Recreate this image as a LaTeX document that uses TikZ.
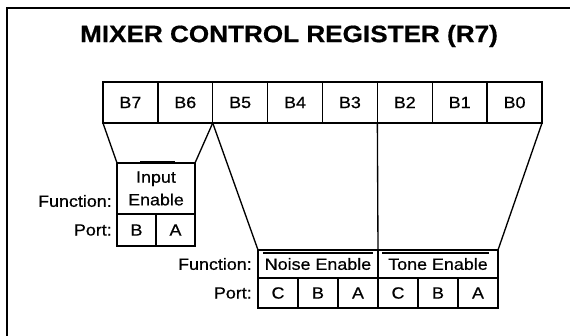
\documentclass[tikz,border=0pt]{standalone}
\usepackage{fontspec}
\setmainfont{Liberation Sans}[FakeStretch=1.1, FakeBold=0.6]
\usepackage{tikz}
\usetikzlibrary{positioning,calc}

\begin{document}
\begin{tikzpicture}[x=0.75pt, y=-0.75pt,
		bitcell/.style={draw, line width=1pt, outer sep=0pt, inner sep=0pt, minimum width=41.16pt, minimum height=30.75pt, font=\fontsize{12.2}{14}\selectfont},
		fncell/.style={draw, line width=1pt, outer sep=0pt, inner sep=0pt, font=\fontsize{12.2}{14}\selectfont},
		portcell/.style={draw, line width=1pt, outer sep=0pt, inner sep=0pt, font=\fontsize{12.2}{14}\selectfont},
		lbl/.style={inner sep=0pt, font=\fontsize{12.2}{14}\selectfont},
		wire/.style={line width=1pt}]
		\useasboundingbox (0,0) rectangle (570,335);
		\clip (0,0) rectangle (570,335);
		\draw[line width=1.5pt] (7,345) -- (7,8.5) -- (580,8.5);

		\node[font=\fontsize{17.8}{20}\selectfont\bfseries] (title) at (289,36) {MIXER CONTROL REGISTER (R7)};

		\begin{scope}
			\node[bitcell] (b7) at (130.4,102.5) {B7};
			\node[bitcell, right=0pt of b7] (b6) {B6};
			\node[bitcell, right=0pt of b6] (b5) {B5};
			\node[bitcell, right=0pt of b5] (b4) {B4};
			\node[bitcell, right=0pt of b4] (b3) {B3};
			\node[bitcell, right=0pt of b3] (b2) {B2};
			\node[bitcell, right=0pt of b2] (b1) {B1};
			\node[bitcell, right=0pt of b1] (b0) {B0};
		\end{scope}

		\begin{scope}
			\node[fncell, minimum width=58.5pt, minimum height=38.25pt, align=center, font=\fontsize{12.2}{17}\selectfont] (inen) at (156,188.5) {Input\\Enable};
			\node[portcell, minimum width=29.25pt, minimum height=24pt, anchor=north west] (inb) at (inen.south west) {B};
			\node[portcell, minimum width=29.25pt, minimum height=24pt, right=0pt of inb] (ina) {A};
			\node[lbl, anchor=east] (infn) at (112,201) {Function:};
			\node[lbl, left=3.75pt of inb] (inport) {Port:};
			\draw[line width=1.2pt] ([xshift=17.25pt, yshift=1pt]inen.north west) -- ([xshift=-15pt, yshift=1pt]inen.north east);
		\end{scope}

		\begin{scope}
			\node[fncell, minimum width=90pt, minimum height=21pt] (noise) at (318,264) {Noise Enable};
			\node[fncell, minimum width=90pt, minimum height=21pt, right=0pt of noise] (tone) {Tone Enable};
			\node[portcell, minimum width=30pt, minimum height=22.5pt, anchor=north west] (nc) at (noise.south west) {C};
			\node[portcell, minimum width=30pt, minimum height=22.5pt, right=0pt of nc] (nb) {B};
			\node[portcell, minimum width=30pt, minimum height=22.5pt, right=0pt of nb] (na) {A};
			\node[portcell, minimum width=30pt, minimum height=22.5pt, right=0pt of na] (tc) {C};
			\node[portcell, minimum width=30pt, minimum height=22.5pt, right=0pt of tc] (tb) {B};
			\node[portcell, minimum width=30pt, minimum height=22.5pt, right=0pt of tb] (ta) {A};
			\node[lbl, left=4.5pt of noise] (mixfn) {Function:};
			\node[lbl, left=4.5pt of nc] (mixport) {Port:};
			\draw[wire] ([xshift=3.75pt, yshift=-2.25pt]noise.north west) -- ([xshift=-3.75pt, yshift=-2.25pt]noise.north east);
			\draw[wire] ([xshift=3pt, yshift=-2.25pt]tone.north west) -- ([xshift=-6.75pt, yshift=-2.25pt]tone.north east);
		\end{scope}

		\draw[wire] (b7.south west) -- (inen.north west);
		\draw[wire] (b6.south east) -- (inen.north east);
		\draw[wire] (b5.south west) -- (noise.north west);
		\draw[wire] (b3.south east) -- (noise.north east);
		\draw[wire] (b0.south east) -- (tone.north east);
	\end{tikzpicture}
\end{document}
